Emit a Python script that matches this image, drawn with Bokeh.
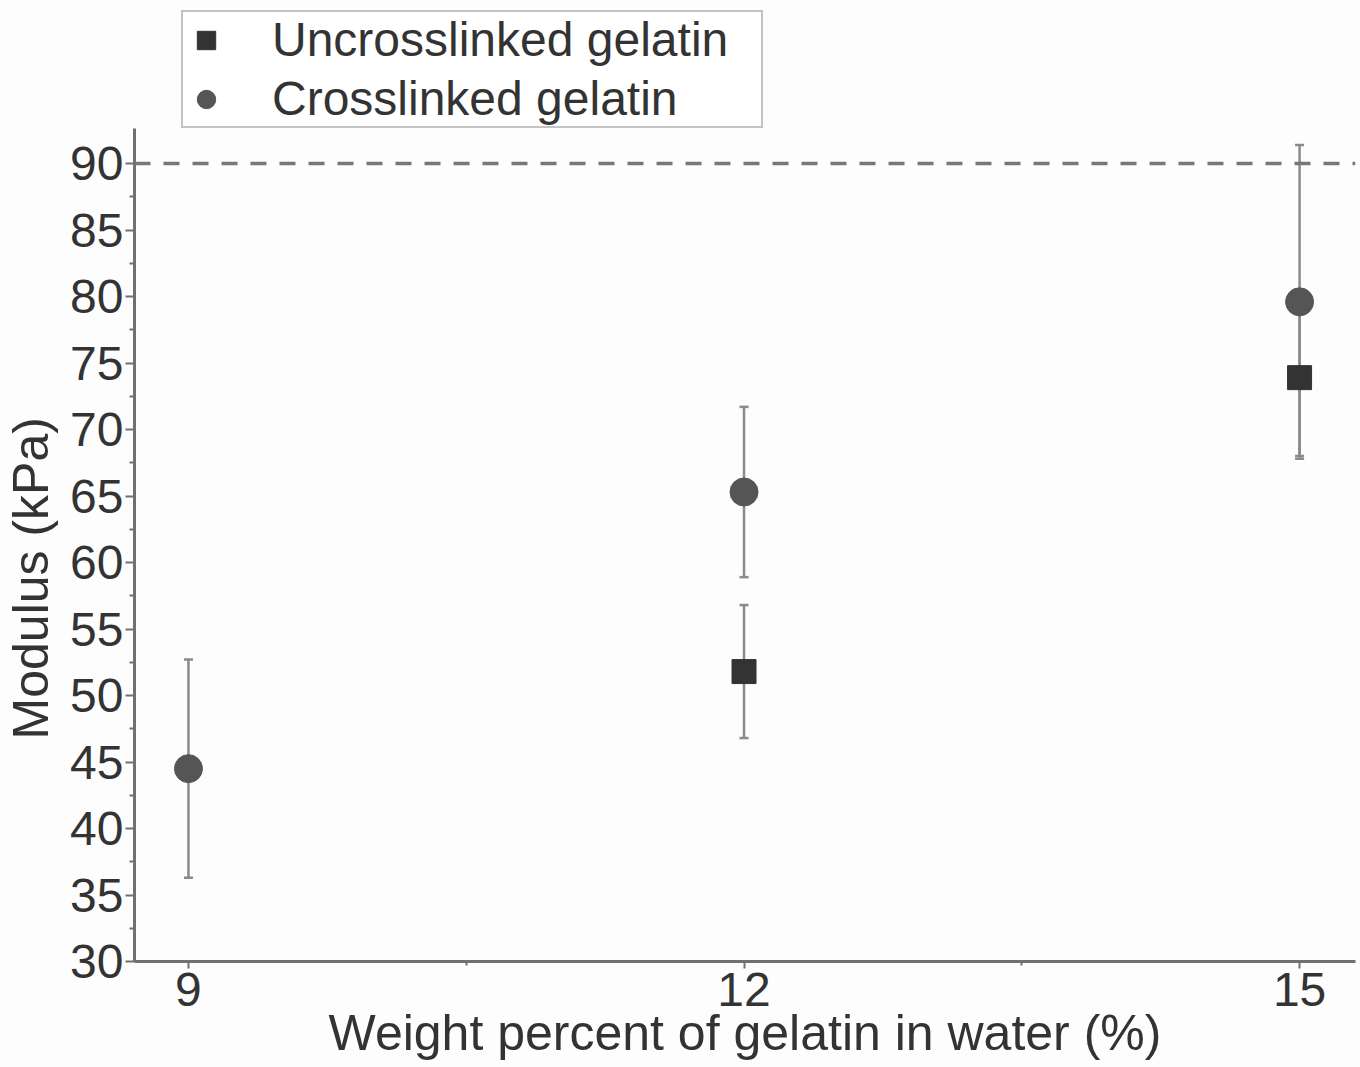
from bokeh.plotting import figure
from bokeh.models import ColumnDataSource, Whisker, TeeHead, Span, Legend, LegendItem, FixedTicker
from bokeh.embed import file_html
from bokeh.resources import INLINE

# data
unx_x = [12, 15]
unx_y = [51.8, 73.9]
unx_err = [5.0, 5.9]

cx_x = [9, 12, 15]
cx_y = [44.5, 65.3, 79.6]
cx_err = [8.2, 6.4, 11.8]

x_ticks = [9, 12, 15]
x_minor = [10.5, 13.5]
y_ticks = [30, 35, 40, 45, 50, 55, 60, 65, 70, 75, 80, 85, 90]
y_minor = [32.5, 37.5, 42.5, 47.5, 52.5, 57.5, 62.5, 67.5, 72.5, 77.5, 82.5, 87.5]
ref_level = 90

FONT = "Liberation Sans"
BG = "#fdfdfd"
AX = "#707070"

p = figure(width=1360, height=1067, output_backend="svg", toolbar_location=None,
           x_range=(8.7086, 15.302), y_range=(30, 102.256),
           min_border_left=133, min_border_right=5, min_border_top=0, min_border_bottom=106)
p.background_fill_color = BG
p.border_fill_color = BG
p.outline_line_color = None
p.grid.grid_line_color = None

src_u = ColumnDataSource(dict(x=unx_x, y=unx_y,
                              lo=[a - b for a, b in zip(unx_y, unx_err)],
                              hi=[a + b for a, b in zip(unx_y, unx_err)]))
src_c = ColumnDataSource(dict(x=cx_x, y=cx_y,
                              lo=[a - b for a, b in zip(cx_y, cx_err)],
                              hi=[a + b for a, b in zip(cx_y, cx_err)]))

for src in (src_u, src_c):
    w = Whisker(source=src, base="x", lower="lo", upper="hi",
                line_color="#8a8a8a", line_width=2.5,
                upper_head=TeeHead(size=9, line_color="#8a8a8a", line_width=2.5),
                lower_head=TeeHead(size=9, line_color="#8a8a8a", line_width=2.5))
    p.add_layout(w)

p.add_layout(Span(location=ref_level, dimension="width", line_color="#777777",
                  line_width=3.5, line_dash="16 13"))

r_u = p.scatter("x", "y", source=src_u, marker="square", size=24,
                fill_color="#333333", line_color="#333333")
r_c = p.scatter("x", "y", source=src_c, marker="circle", size=28,
                fill_color="#555555", line_color="#555555")

# axes
for ax in (p.xaxis[0], p.yaxis[0]):
    ax.axis_line_color = AX
    ax.axis_line_width = 3
    ax.major_tick_line_color = AX
    ax.major_tick_line_width = 2
    ax.minor_tick_line_color = AX
    ax.minor_tick_line_width = 2
    ax.major_tick_in = 0
    ax.minor_tick_in = 0
    ax.major_label_text_font = FONT
    ax.major_label_text_font_size = "48px"
    ax.major_label_text_color = "#333333"
    ax.axis_label_text_font = FONT
    ax.axis_label_text_font_size = "50px"
    ax.axis_label_text_color = "#333333"
    ax.axis_label_text_font_style = "normal"

p.xaxis.ticker = FixedTicker(ticks=x_ticks, minor_ticks=x_minor)
p.yaxis.ticker = FixedTicker(ticks=y_ticks, minor_ticks=y_minor)
p.yaxis.bounds = (30, 92.63)
p.xaxis.axis_label = "Weight percent of gelatin in water (%)"
# trailing no-break spaces shift the visible label down to where the reference has it
p.yaxis.axis_label = "Modulus (kPa)" + "\u00a0" * 14
p.xaxis.major_tick_out = 7
p.xaxis.minor_tick_out = 4
p.xaxis.major_label_standoff = 4
p.xaxis.axis_label_standoff = -4
p.yaxis.major_tick_out = 9
p.yaxis.minor_tick_out = 5
p.yaxis.major_label_standoff = 2
p.yaxis.axis_label_standoff = 8

legend = Legend(items=[LegendItem(label="Uncrosslinked gelatin", renderers=[r_u]),
                       LegendItem(label="Crosslinked gelatin", renderers=[r_c])],
                location=(47, 833))
legend.label_text_font = FONT
legend.label_text_font_size = "48px"
legend.label_text_color = "#333333"
legend.border_line_color = "#888888"
legend.border_line_width = 2
legend.background_fill_color = "#ffffff"
legend.background_fill_alpha = 1
legend.padding = 0
legend.spacing = 4
legend.margin = 0
legend.glyph_width = 46
legend.glyph_height = 50
legend.label_height = 50
legend.label_standoff = 43
legend.label_width = 489
p.add_layout(legend, "center")

open("out.html", "w").write(file_html(p, INLINE))
